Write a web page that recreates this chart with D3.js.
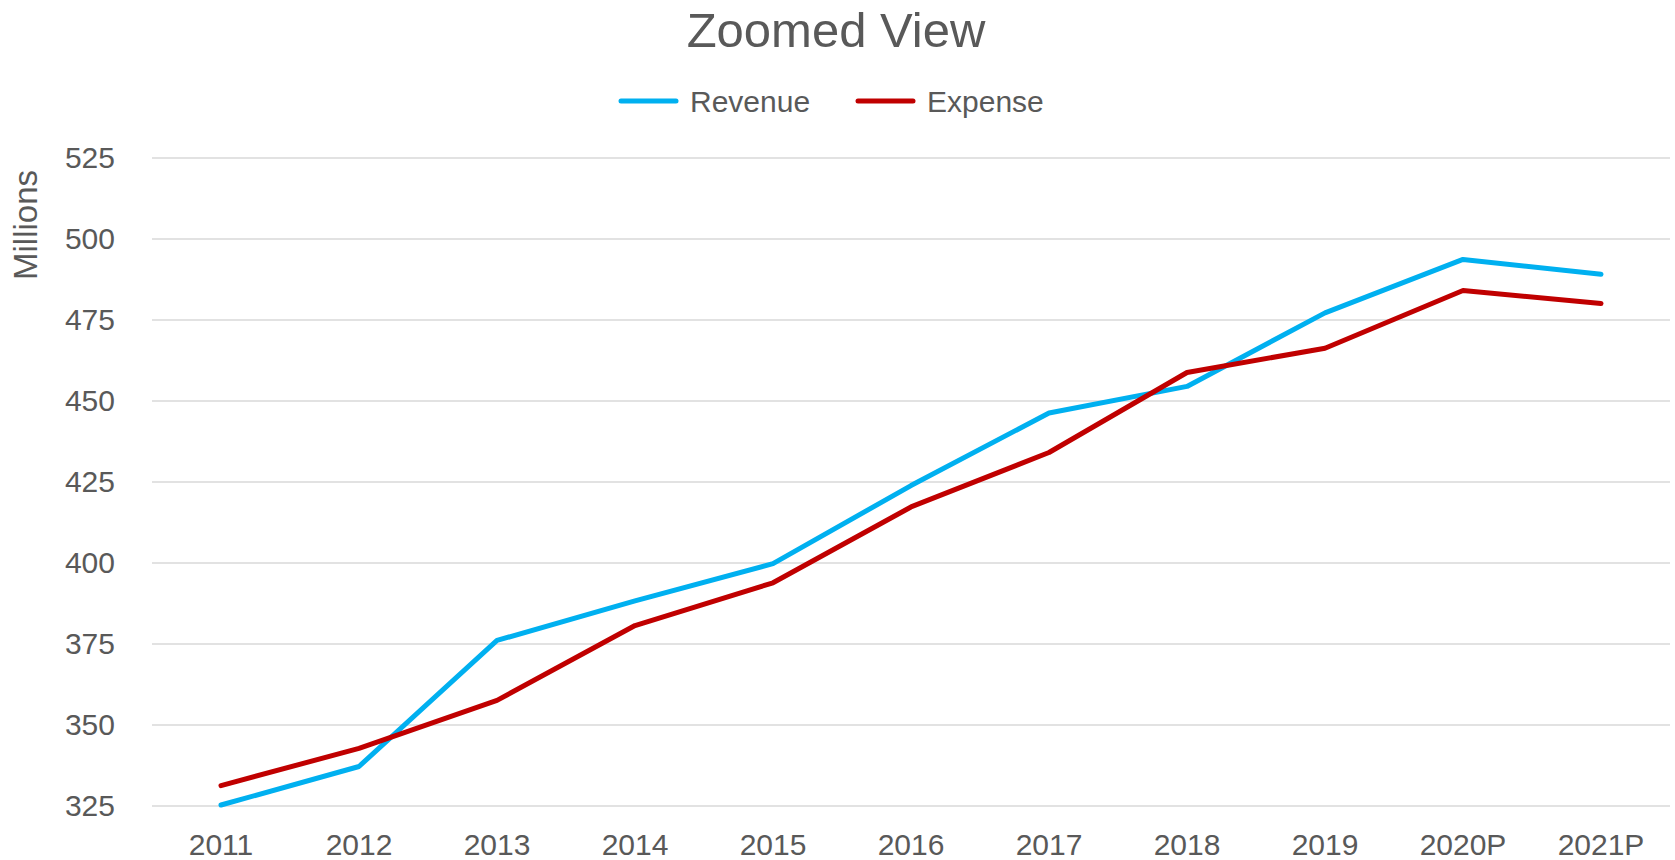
<!DOCTYPE html>
<html>
<head>
<meta charset="utf-8">
<script src="https://cdn.jsdelivr.net/npm/d3@7"></script>
<style>
  body { margin: 0; background: #fff; }
  text { font-family: "Liberation Sans", Arial, sans-serif; fill: #595959; }
</style>
</head>
<body>
<svg id="chart" width="1675" height="860"></svg>
<script>
var years = ["2011", "2012", "2013", "2014", "2015", "2016", "2017", "2018", "2019", "2020P", "2021P"];
var revenue = [325.3, 337.2, 376.1, 388.3, 399.8, 423.9, 446.3, 454.5, 477.2, 493.7, 489.1];
var expense = [331.3, 342.8, 357.6, 380.7, 393.9, 417.3, 434.1, 458.8, 466.3, 484.1, 480.1];
var yTicks = [325, 350, 375, 400, 425, 450, 475, 500, 525];

var series = [
    { name: "Revenue", values: revenue, color: "#00B0F0" },
    { name: "Expense", values: expense, color: "#C00000" }
];

var svg = d3.select("#chart");

// plot area
var plotLeft = 152, plotRight = 1670, plotTop = 158, plotBottom = 806;

var x = d3.scaleBand().domain(years).range([plotLeft, plotRight]);
var y = d3.scaleLinear().domain([325, 525]).range([plotBottom, plotTop]);

// gridlines
svg.append("g").selectAll("line").data(yTicks).enter()
    .append("line")
    .attr("x1", plotLeft).attr("x2", plotRight)
    .attr("y1", function (d) { return y(d); })
    .attr("y2", function (d) { return y(d); })
    .style("stroke", "#D9D9D9")
    .style("stroke-width", "1.5px");

// y axis labels, right edge at ~115px
var yAxis = d3.axisLeft(y).tickValues(yTicks).tickSize(0).tickPadding(0);
var gy = svg.append("g").attr("transform", "translate(115,0)").call(yAxis);
gy.select(".domain").remove();
gy.selectAll("text").style("font-size", "30px").style("fill", "#595959")
    .style("font-family", "Liberation Sans, Arial, sans-serif");

// x axis labels
var xAxis = d3.axisBottom(x).tickSize(0).tickPadding(28);
var gx = svg.append("g").attr("transform", "translate(0," + plotBottom + ")").call(xAxis);
gx.select(".domain").remove();
gx.selectAll("text").style("font-size", "30px").style("fill", "#595959")
    .style("font-family", "Liberation Sans, Arial, sans-serif");

// lines
var line = d3.line()
    .x(function (d, i) { return x(years[i]) + x.bandwidth() / 2; })
    .y(function (d) { return y(d); });

series.forEach(function (s) {
    svg.append("path")
        .datum(s.values)
        .attr("d", line)
        .style("fill", "none")
        .style("stroke", s.color)
        .style("stroke-width", "5px")
        .style("stroke-linecap", "round")
        .style("stroke-linejoin", "round");
});

// title
svg.append("text")
    .attr("x", 836).attr("y", 47)
    .attr("text-anchor", "middle")
    .style("font-size", "49px")
    .text("Zoomed View");

// axis title
svg.append("text")
    .attr("transform", "translate(37,225) rotate(-90)")
    .attr("text-anchor", "middle")
    .style("font-size", "33px")
    .text("Millions");

// legend
var legendX = [621, 858];
series.forEach(function (s, i) {
    svg.append("line")
        .attr("x1", legendX[i]).attr("x2", legendX[i] + 55)
        .attr("y1", 101).attr("y2", 101)
        .style("stroke", s.color)
        .style("stroke-width", "5px")
        .style("stroke-linecap", "round");
    svg.append("text")
        .attr("x", legendX[i] + 69).attr("y", 112)
        .style("font-size", "30px")
        .text(s.name);
});
</script>
</body>
</html>
